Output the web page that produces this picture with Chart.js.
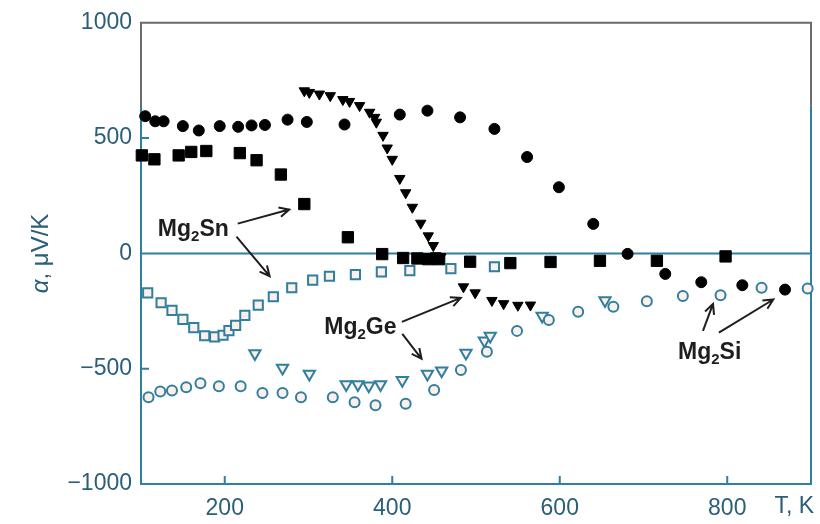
<!DOCTYPE html>
<html><head><meta charset="utf-8">
<script src="https://cdn.jsdelivr.net/npm/chart.js@4/dist/chart.umd.min.js"></script>
<style>html,body{margin:0;padding:0;background:#fff}</style>
</head><body>
<canvas id="c" width="820" height="524"></canvas>
<script>
// ---- axis ticks ----
const xTicks = [200, 400, 600, 800];
const yTicks = [-1000, -500, 0, 500, 1000];

// ---- Mg2Si, filled circles ----
const siP_T = [105, 117, 127, 150, 169, 194, 216, 232, 248, 275, 298, 343, 409, 442, 481, 522, 561, 599, 640, 681, 726, 769, 818, 869];
const siP_a = [595, 573, 573, 552, 533, 552, 549, 555, 557, 580, 570, 559, 602, 619, 590, 540, 418, 287, 128, -2, -89, -125, -138, -157];
// ---- Mg2Si, open circles ----
const siN_T = [109, 123, 137, 154, 171, 193, 219, 245, 269, 291, 329, 355, 380, 416, 450, 482, 513, 549, 587, 622, 664, 704, 747, 792, 841, 896];
const siN_a = [-624, -599, -595, -580, -563, -576, -576, -605, -605, -624, -624, -645, -659, -652, -592, -506, -427, -336, -289, -253, -231, -207, -185, -181, -149, -152];
// ---- Mg2Sn, filled squares ----
const snP_T = [101, 116, 145, 160, 178, 218, 238, 267, 295, 347, 388, 413, 430, 443, 456, 493, 541, 589, 648, 716, 798];
const snP_a = [425, 408, 425, 440, 444, 435, 404, 342, 214, 70, -3, -20, -22, -25, -25, -36, -42, -37, -32, -32, -13];
// ---- Mg2Sn, open squares ----
const snN_T = [108, 124, 137, 150, 163, 176, 188, 198, 205, 213, 224, 240, 258, 280, 305, 325, 356, 387, 421, 470, 522];
const snN_a = [-171, -214, -247, -286, -322, -357, -362, -355, -335, -312, -269, -224, -188, -149, -116, -99, -92, -80, -75, -66, -58];
// ---- Mg2Ge, filled triangles ----
const geP_T = [295, 301, 313, 326, 341, 349, 361, 373, 379, 381, 389, 394, 400, 409, 416, 424, 434, 443, 449, 452, 458, 485, 499, 519, 533, 550, 565];
const geP_a = [705, 698, 691, 684, 667, 659, 641, 612, 590, 569, 512, 457, 408, 325, 263, 200, 131, 76, 34, -10, -15, -145, -171, -204, -218, -225, -224];
// ---- Mg2Ge, open triangles ----
const geN_T = [236, 269, 301, 345, 359, 372, 386, 412, 442, 459, 488, 510, 517, 579, 654];
const geN_a = [-434, -497, -523, -569, -569, -574, -569, -550, -523, -509, -432, -379, -358, -272, -204];

// ---- annotation texts ----
const labelTexts = [['Mg', '2', 'Sn'], ['Mg', '2', 'Ge'], ['Mg', '2', 'Si']];
const xTitle = 'T, K';

// ---- styling / layout (not data) ----
const TEAL = '#2f7f9e';
const TICKC = '#2b5f78';
const FONT = '"Liberation Sans", Arial, Helvetica, sans-serif';
const OPEN_FILL = '#fdf0ea';
const labelPos = [[162.5, 108], [362, -315], [779, -422]];
const arrowPos = [[215.5, 129, 277, 190], [214, 73, 253.6, -99], [411.5, -297, 481.8, -193], [412, -349, 435, -457], [771, -336, 783, -219], [790, -344, 855, -200]];

const pts = (T, a) => T.map((t, i) => ({x: t, y: a[i]}));

function arrow(ctx, x1, y1, x2, y2) {
  const ang = Math.atan2(y2 - y1, x2 - x1), L = 11, w = 0.45;
  ctx.beginPath();
  ctx.moveTo(x1, y1); ctx.lineTo(x2, y2);
  ctx.moveTo(x2 - L * Math.cos(ang - w), y2 - L * Math.sin(ang - w));
  ctx.lineTo(x2, y2);
  ctx.lineTo(x2 - L * Math.cos(ang + w), y2 - L * Math.sin(ang + w));
  ctx.stroke();
}
function chem(ctx, parts, cx, cy) {
  const big = 'bold 23px ' + FONT, small = 'bold 15px ' + FONT;
  ctx.font = big; const w1 = ctx.measureText(parts[0]).width, w3 = ctx.measureText(parts[2]).width;
  ctx.font = small; const w2 = ctx.measureText(parts[1]).width;
  let x = cx - (w1 + w2 + w3) / 2;
  ctx.textBaseline = 'alphabetic'; ctx.textAlign = 'left';
  const base = cy + 8;
  ctx.font = big; ctx.fillText(parts[0], x, base); x += w1;
  ctx.font = small; ctx.fillText(parts[1], x, base + 5); x += w2;
  ctx.font = big; ctx.fillText(parts[2], x, base);
}

const deco = {
  id: 'deco',
  beforeDatasetsDraw(chart) {
    const {ctx, chartArea: ca, scales: {x, y}} = chart;
    ctx.save();
    ctx.strokeStyle = TEAL; ctx.lineWidth = 2;
    const y0 = y.getPixelForValue(0);
    ctx.beginPath(); ctx.moveTo(ca.left, y0); ctx.lineTo(ca.right, y0); ctx.stroke();
    // inward tick marks
    ctx.beginPath();
    xTicks.forEach(v => { const px = x.getPixelForValue(v); ctx.moveTo(px, ca.bottom); ctx.lineTo(px, ca.bottom - 8); });
    [-500, 500].forEach(v => { const py = y.getPixelForValue(v); ctx.moveTo(ca.left, py); ctx.lineTo(ca.left + 8, py); });
    ctx.stroke();
    // frame: top & right, gray upper part
    ctx.strokeStyle = '#6a6a6a';
    ctx.beginPath();
    ctx.moveTo(ca.left, ca.top + 83); ctx.lineTo(ca.left, ca.top); ctx.lineTo(ca.right, ca.top); ctx.lineTo(ca.right, ca.top + 83);
    ctx.stroke();
    ctx.strokeStyle = TEAL;
    ctx.beginPath(); ctx.moveTo(ca.right, ca.top + 83); ctx.lineTo(ca.right, ca.bottom); ctx.stroke();
    ctx.restore();
  },
  afterDraw(chart) {
    const {ctx, chartArea: ca, scales: {x, y}} = chart;
    ctx.save();
    ctx.fillStyle = '#1e1e1e'; ctx.strokeStyle = '#1e1e1e'; ctx.lineWidth = 2;
    labelTexts.forEach((p, i) => chem(ctx, p, x.getPixelForValue(labelPos[i][0]), y.getPixelForValue(labelPos[i][1])));
    arrowPos.forEach(a => arrow(ctx, x.getPixelForValue(a[0]), y.getPixelForValue(a[1]), x.getPixelForValue(a[2]), y.getPixelForValue(a[3])));
    // x title
    ctx.fillStyle = TICKC; ctx.font = '23px ' + FONT; ctx.textAlign = 'right'; ctx.textBaseline = 'middle';
    ctx.fillText(xTitle, ca.right + 3, ca.bottom + 23);
    // y title (rotated), italic alpha
    ctx.translate(41, (ca.top + ca.bottom) / 2);
    ctx.rotate(-Math.PI / 2);
    const fa = 'italic 24px ' + FONT, fb = '24px ' + FONT;
    ctx.font = fa; const wa = ctx.measureText('α').width;
    ctx.font = fb; const wb = ctx.measureText(', μV/K').width;
    let sx = -(wa + wb) / 2;
    ctx.textAlign = 'left';
    ctx.font = fa; ctx.fillText('α', sx, 0);
    ctx.font = fb; ctx.fillText(', μV/K', sx + wa, 0);
    ctx.restore();
  }
};

const filled = (data, style, r, rot) => ({data, pointStyle: style, pointRadius: r, pointRotation: rot || 0, backgroundColor: '#000', borderColor: '#000', borderWidth: 1, clip: false});
const open = (data, style, r, rot) => ({data, pointStyle: style, pointRadius: r, pointRotation: rot || 0, backgroundColor: OPEN_FILL, borderColor: TEAL, borderWidth: 2, clip: false});

new Chart(document.getElementById('c'), {
  type: 'scatter',
  data: {datasets: [
    open(pts(siN_T, siN_a), 'circle', 5),
    open(pts(snN_T, snN_a), 'rect', 6.5),
    open(pts(geN_T, geN_a), 'triangle', 6.5, 180),
    filled(pts(siP_T, siP_a), 'circle', 5.5),
    filled(pts(snP_T, snP_a), 'rect', 8),
    filled(pts(geP_T, geP_a), 'triangle', 6, 180)
  ]},
  options: {
    responsive: false, animation: false, events: [],
    layout: {padding: {left: 0, right: 8, top: 20, bottom: 0}},
    plugins: {legend: {display: false}, tooltip: {enabled: false}},
    scales: {
      x: {
        type: 'linear', min: 100, max: 900,
        afterBuildTicks: s => { s.ticks = xTicks.map(v => ({value: v})); },
        afterFit: s => { s.height = 40; },
        grid: {display: false, drawTicks: false},
        border: {display: true, color: TEAL, width: 2},
        ticks: {color: TICKC, font: {size: 23, family: FONT}, padding: 11, maxRotation: 0}
      },
      y: {
        type: 'linear', min: -1000, max: 1000,
        afterBuildTicks: s => { s.ticks = yTicks.map(v => ({value: v})); },
        afterFit: s => { s.width = 141; },
        grid: {display: false, drawTicks: false},
        border: {display: true, color: TEAL, width: 2},
        ticks: {color: TICKC, font: {size: 23, family: FONT}, padding: 9, callback: v => v < 0 ? '\u2212' + Math.abs(v) : String(v)}
      }
    }
  },
  plugins: [deco]
});
</script>
</body></html>
